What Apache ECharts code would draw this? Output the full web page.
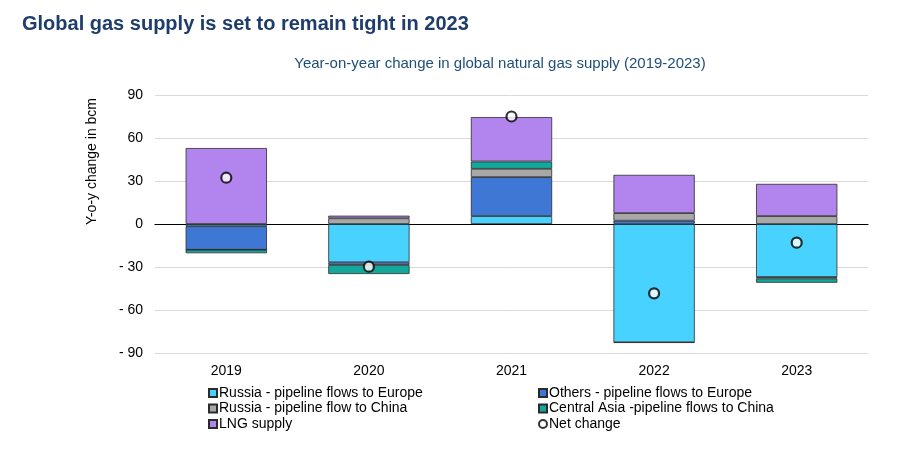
<!DOCTYPE html>
<html><head><meta charset="utf-8">
<script src="https://cdn.jsdelivr.net/npm/echarts@6/dist/echarts.min.js"></script>
<style>html,body{margin:0;padding:0;background:#fff}#c{width:900px;height:450px}</style>
</head><body><div id="c"></div>
<script>
const categories = ['2019','2020','2021','2022','2023'];
const russiaEurope = [-1.5, -26.7, 5.5, -82.5, -37];
const othersEurope = [-16.5, -1.9, 27.2, 2.3, -1];
const russiaChina = [0, 4, 5.8, 5.3, 5.5];
const centralAsia = [-2.4, -6.3, 5.1, -0.4, -3];
const lngSupply = [53, 1.8, 31, 26.7, 22.5];
const netChange = [32.3, -29.8, 75, -48.4, -13];
const yTicks = [-90, -60, -30, 0, 30, 60, 90];

const font = 'Liberation Sans, Arial, sans-serif';
const border = {borderColor:'#2b2b2b', borderWidth:0.8};
function bar(name, data, color){
  return {name, type:'bar', stack:'s', data, barWidth:'57%',
    itemStyle:Object.assign({color}, border), emphasis:{disabled:true}};
}
const chart = echarts.init(document.getElementById('c'));
chart.setOption({
  animation:false,
  textStyle:{fontFamily:font},
  title:[
    {text:'Global gas supply is set to remain tight in 2023', left:17, top:9,
     textStyle:{fontFamily:font, fontSize:20, fontWeight:'bold', color:'#1f3d6b'}},
    {text:'Year-on-year change in global natural gas supply (2019-2023)', left:495, top:51, textAlign:'center',
     textStyle:{fontFamily:font, fontSize:15, fontWeight:'normal', color:'#1f4e79'}}
  ],
  graphic:[{type:'text', left:85, top:98, rotation:Math.PI/2,
    style:{text:'Y-o-y change in bcm', font:'14px '+font, fill:'#000'}}],
  grid:{left:155, right:32, top:95, bottom:97},
  xAxis:{type:'category', data:categories,
    axisLine:{onZero:true, lineStyle:{color:'#000', width:1.2}},
    axisTick:{show:false},
    axisLabel:{fontSize:14, color:'#000', margin:11},
    position:'bottom'},
  yAxis:{type:'value', min:-90, max:90, interval:30,
    axisLine:{show:false}, axisTick:{show:false},
    splitLine:{lineStyle:{color:'#d9d9d9', width:1}},
    axisLabel:{fontSize:14, color:'#000', margin:12,
      formatter:v=> yTicks.includes(v) ? (v<0 ? '- '+Math.abs(v) : String(v)) : ''}},
  legend:[
    {orient:'vertical', left:203, top:381, itemWidth:8, itemHeight:8, itemGap:1.5,
     data:['Russia - pipeline flows to Europe','Russia - pipeline flow to China','LNG supply'],
     textStyle:{fontSize:14, color:'#000', padding:[0,0,0,-3]}, icon:'rect'},
    {orient:'vertical', left:533, top:381, itemWidth:8, itemHeight:8, itemGap:1.5,
     data:['Others - pipeline flows to Europe','Central Asia -pipeline flows to China',{name:'Net change', icon:'circle'}],
     textStyle:{fontSize:14, color:'#000', padding:[0,0,0,-3]}, icon:'rect'}
  ],
  series:[
    bar('Russia - pipeline flows to Europe', russiaEurope, '#48d2ff'),
    bar('Others - pipeline flows to Europe', othersEurope, '#3e78d4'),
    bar('Russia - pipeline flow to China', russiaChina, '#a8a8a8'),
    bar('Central Asia -pipeline flows to China', centralAsia, '#12a89c'),
    bar('LNG supply', lngSupply, '#b284ee'),
    {name:'Net change', type:'scatter', data:netChange, symbol:'circle', symbolSize:10,
     itemStyle:{color:'#fff', borderColor:'#000', borderWidth:2.2}, z:10}
  ]
});
</script></body></html>
